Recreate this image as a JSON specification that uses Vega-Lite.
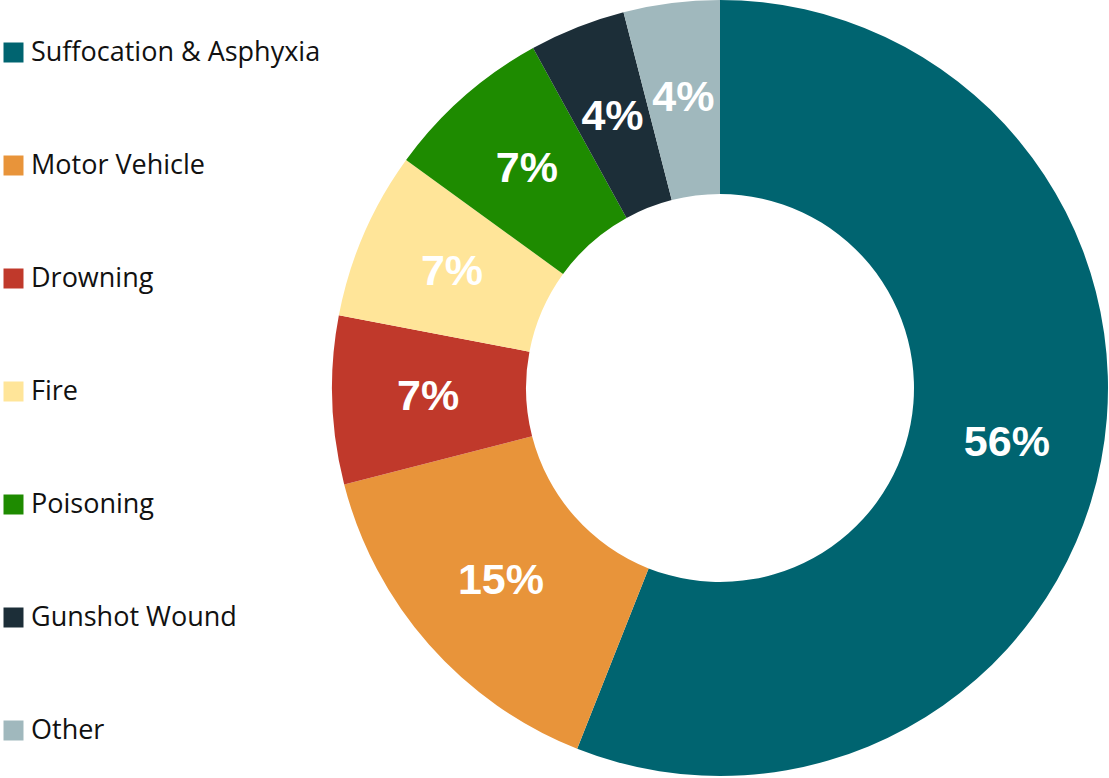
{
  "$schema": "https://vega.github.io/schema/vega-lite/v6.json",
  "width": 776,
  "height": 776,
  "autosize": {"type": "none"},
  "padding": {"left": 332, "top": 0, "right": 1, "bottom": 2},
  "background": "white",
  "config": {"view": {"stroke": null}},
  "data": {
    "values": [
      {"cause": "Suffocation & Asphyxia", "value": 56, "label": "56%", "order": 1},
      {"cause": "Motor Vehicle", "value": 15, "label": "15%", "order": 2},
      {"cause": "Drowning", "value": 7, "label": "7%", "order": 3},
      {"cause": "Fire", "value": 7, "label": "7%", "order": 4},
      {"cause": "Poisoning", "value": 7, "label": "7%", "order": 5},
      {"cause": "Gunshot Wound", "value": 4, "label": "4%", "order": 6},
      {"cause": "Other", "value": 4, "label": "4%", "order": 7}
    ]
  },
  "encoding": {
    "theta": {"field": "value", "type": "quantitative", "stack": true},
    "order": {"field": "order", "type": "quantitative"},
    "color": {
      "field": "cause",
      "type": "nominal",
      "scale": {
        "domain": ["Suffocation & Asphyxia", "Motor Vehicle", "Drowning", "Fire", "Poisoning", "Gunshot Wound", "Other"],
        "range": ["#006470", "#E8943A", "#C0392B", "#FFE599", "#1E8B00", "#1C2E38", "#A0B8BD"]
      },
      "legend": {
        "title": null,
        "orient": "none",
        "legendX": -332,
        "legendY": 39,
        "symbolType": "square",
        "symbolSize": 400,
        "symbolStrokeWidth": 0,
        "labelFont": "Open Sans",
        "labelFontSize": 27,
        "labelColor": "#111111",
        "labelOffset": 4,
        "rowPadding": 85,
        "padding": 0,
        "labelLimit": 400
      }
    }
  },
  "layer": [
    {"mark": {"type": "arc", "outerRadius": 388, "innerRadius": 194}},
    {
      "mark": {"type": "text", "radius": 292, "font": "Liberation Sans", "fontWeight": "bold", "fontSize": 43, "fill": "white", "baseline": "middle", "align": "center"},
      "encoding": {"text": {"field": "label"}, "color": {"value": "white"}}
    }
  ]
}
